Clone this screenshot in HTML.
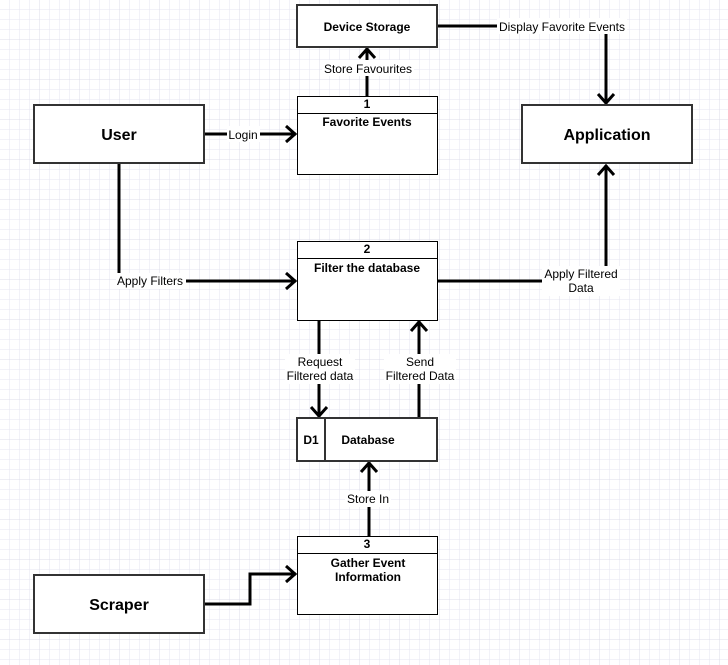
<!DOCTYPE html>
<html><head><style>
html,body{margin:0;padding:0;background:#fff}
svg{display:block}
text{font-family:"Liberation Sans",Arial,sans-serif;fill:#000}
</style></head><body>
<svg width="728" height="665" viewBox="0 0 728 665" xmlns="http://www.w3.org/2000/svg">
<defs>
<pattern id="g" width="10" height="10" patternUnits="userSpaceOnUse">
<path d="M10 0V10M0 10H10" fill="none" stroke="#e6e6f0" stroke-width="1"/>
</pattern>
<pattern id="G" width="40" height="40" patternUnits="userSpaceOnUse">
<rect width="40" height="40" fill="url(#g)"/>
<path d="M40 0V40M0 40H40" fill="none" stroke="#dcdce8" stroke-width="1"/>
</pattern>
</defs>
<rect width="728" height="665" fill="url(#G)"/>

<g fill="none" stroke="#000" stroke-width="3" stroke-linejoin="miter">
<!-- Display Favorite Events -->
<path d="M437 26H606V104"/>
<path d="M598 94L606 103L614 94"/>
<!-- Store favourites -->
<path d="M367 96V48"/>
<path d="M359 58L367 49L375 58"/>
<!-- Login -->
<path d="M204 134H296"/>
<path d="M286 126L295 134L286 142"/>
<!-- Apply Filters -->
<path d="M119 163V281H296"/>
<path d="M286 273L295 281L286 289"/>
<!-- Apply Filtered Data -->
<path d="M438 281H606V165"/>
<path d="M598 175L606 166L614 175"/>
<!-- Request -->
<path d="M319 320V417"/>
<path d="M311 407L319 416L327 407"/>
<!-- Send -->
<path d="M419 418V321"/>
<path d="M411 331L419 322L427 331"/>
<!-- Store In -->
<path d="M369 536V462"/>
<path d="M361 472L369 463L377 472"/>
<!-- Scraper -->
<path d="M204 604H250V574H296"/>
<path d="M286 566L295 574L286 582"/>
</g>

<!-- boxes -->
<g fill="#fff" stroke="#333" stroke-width="2">
<rect x="297" y="5" width="140" height="42"/>
<rect x="34" y="105" width="170" height="58"/>
<rect x="522" y="105" width="170" height="58"/>
<rect x="34" y="575" width="170" height="58"/>
<rect x="297" y="418" width="140" height="43"/>
</g>
<path d="M325 418V461" stroke="#333" stroke-width="2"/>
<g fill="#fff" stroke="#000" stroke-width="1">
<rect x="297.5" y="96.5" width="140" height="78"/>
<rect x="297.5" y="241.5" width="140" height="79"/>
<rect x="297.5" y="536.5" width="140" height="78"/>
</g>
<g stroke="#000" stroke-width="1">
<path d="M297 113.5H438M297 258.5H438M297 553.5H438"/>
</g>

<!-- label backgrounds -->
<g fill="#fff">
<rect x="497" y="18" width="130" height="16"/>
<rect x="322" y="60" width="92" height="16"/>
<rect x="227" y="126" width="33" height="16"/>
<rect x="116" y="273" width="70" height="16"/>
<rect x="542" y="266" width="78" height="30"/>
<rect x="285" y="354" width="70" height="30"/>
<rect x="384" y="354" width="72" height="30"/>
<rect x="345" y="491" width="46" height="16"/>
</g>

<g font-size="12" text-anchor="middle">
<text x="562" y="31">Display Favorite Events</text>
<text x="368" y="73">Store Favourites</text>
<text x="243" y="139">Login</text>
<text x="150" y="285">Apply Filters</text>
<text x="581" y="278">Apply Filtered</text>
<text x="581" y="292">Data</text>
<text x="320" y="366">Request</text>
<text x="320" y="380">Filtered data</text>
<text x="420" y="366">Send</text>
<text x="420" y="380">Filtered Data</text>
<text x="368" y="503">Store In</text>
</g>
<g font-size="12" font-weight="bold" text-anchor="middle">
<text x="367" y="31">Device Storage</text>
<text x="367" y="108">1</text>
<text x="367" y="126">Favorite Events</text>
<text x="367" y="253">2</text>
<text x="367" y="272">Filter the database</text>
<text x="367" y="548">3</text>
<text x="368" y="567">Gather Event</text>
<text x="368" y="581">Information</text>
<text x="311" y="444">D1</text>
<text x="368" y="444">Database</text>
</g>
<g font-size="16" font-weight="bold" text-anchor="middle">
<text x="119" y="140">User</text>
<text x="607" y="140">Application</text>
<text x="119" y="610">Scraper</text>
</g>
</svg>
</body></html>
